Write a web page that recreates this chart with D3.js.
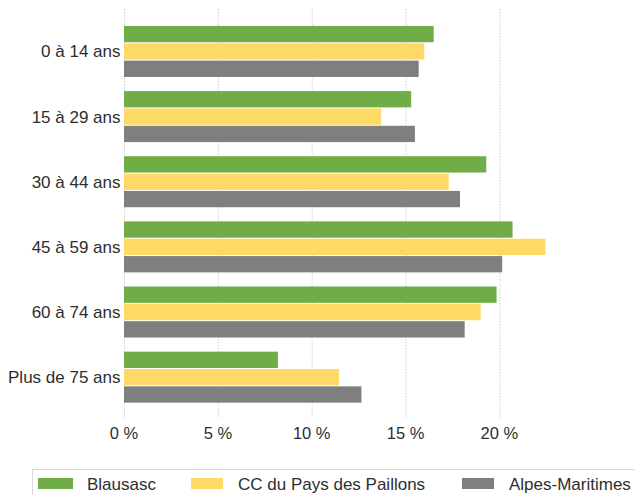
<!DOCTYPE html>
<html>
<head>
<meta charset="utf-8">
<script src="https://cdn.jsdelivr.net/npm/d3@7"></script>
<style>
  body { margin: 0; background: #fff; }
  svg { display: block; font-family: "Liberation Sans", Arial, sans-serif; }
</style>
</head>
<body>
<svg width="635" height="495"></svg>
<script>
var categories = ["0 à 14 ans", "15 à 29 ans", "30 à 44 ans", "45 à 59 ans", "60 à 74 ans", "Plus de 75 ans"];
var series = ["Blausasc", "CC du Pays des Paillons", "Alpes-Maritimes"];
var blausasc = [16.5, 15.3, 19.3, 20.7, 19.85, 8.2];
var paillons = [16.0, 13.7, 17.3, 22.45, 19.0, 11.45];
var alpes = [15.7, 15.5, 17.9, 20.15, 18.15, 12.65];
var ticks = [0, 5, 10, 15, 20];
var colors = ["#70ad47", "#ffd966", "#7f7f7f"];

var svg = d3.select("svg");
var values = [blausasc, paillons, alpes];

var x = d3.scaleLinear().domain([0, 20]).range([124, 499.4]);
var y = d3.scaleBand().domain(categories).range([18.9, 409.7]).paddingInner(0.217).paddingOuter(0.108);
var ySub = d3.scaleBand().domain(series).range([0, y.bandwidth()]).paddingInner(0.06);

// dotted gridlines
svg.append("g").selectAll("line").data(ticks).enter().append("line")
	.attr("x1", function(d){ return x(d) + 0.5; })
	.attr("x2", function(d){ return x(d) + 0.5; })
	.attr("y1", 9)
	.attr("y2", 418)
	.attr("stroke", "#cfcfcf")
	.attr("stroke-width", 1)
	.attr("stroke-dasharray", "1.5,1.5");

// bars
var rows = [];
categories.forEach(function(c, i){
	series.forEach(function(s, j){
		rows.push({ cat: c, ser: s, val: values[j][i], col: colors[j] });
	});
});

svg.append("g").selectAll("rect").data(rows).enter().append("rect")
	.attr("x", x(0))
	.attr("y", function(d){ return y(d.cat) + ySub(d.ser); })
	.attr("width", function(d){ return x(d.val) - x(0); })
	.attr("height", ySub.bandwidth())
	.attr("fill", function(d){ return d.col; });

// y labels
svg.append("g").selectAll("text").data(categories).enter().append("text")
	.attr("x", 120.5)
	.attr("y", function(d){ return y(d) + y.bandwidth() / 2; })
	.attr("dy", "0.35em")
	.attr("text-anchor", "end")
	.attr("font-size", "17px")
	.attr("fill", "#2e2e2e")
	.text(function(d){ return d; });

// x tick labels
svg.append("g").selectAll("text").data(ticks).enter().append("text")
	.attr("x", function(d){ return x(d); })
	.attr("y", 439)
	.attr("text-anchor", "middle")
	.attr("font-size", "16.5px")
	.attr("fill", "#2e2e2e")
	.text(function(d){ return d + " %"; });

// legend
svg.append("rect")
	.attr("x", 32.5).attr("y", 469.5)
	.attr("width", 640).attr("height", 60)
	.attr("fill", "none")
	.attr("stroke", "#d9d9d9");

var legendX = [38, 191, 462];
var lg = svg.append("g").selectAll("g").data(series).enter().append("g")
	.attr("transform", function(d, i){ return "translate(" + legendX[i] + ",0)"; });

lg.append("rect")
	.attr("x", 0).attr("y", 478)
	.attr("width", function(d, i){ return i == 0 ? 35 : 32; })
	.attr("height", 11)
	.attr("fill", function(d, i){ return colors[i]; });

lg.append("text")
	.attr("x", function(d, i){ return i == 0 ? 49 : 47; })
	.attr("y", 490)
	.attr("font-size", "17px")
	.attr("fill", "#2e2e2e")
	.text(function(d){ return d; });
</script>
</body>
</html>
